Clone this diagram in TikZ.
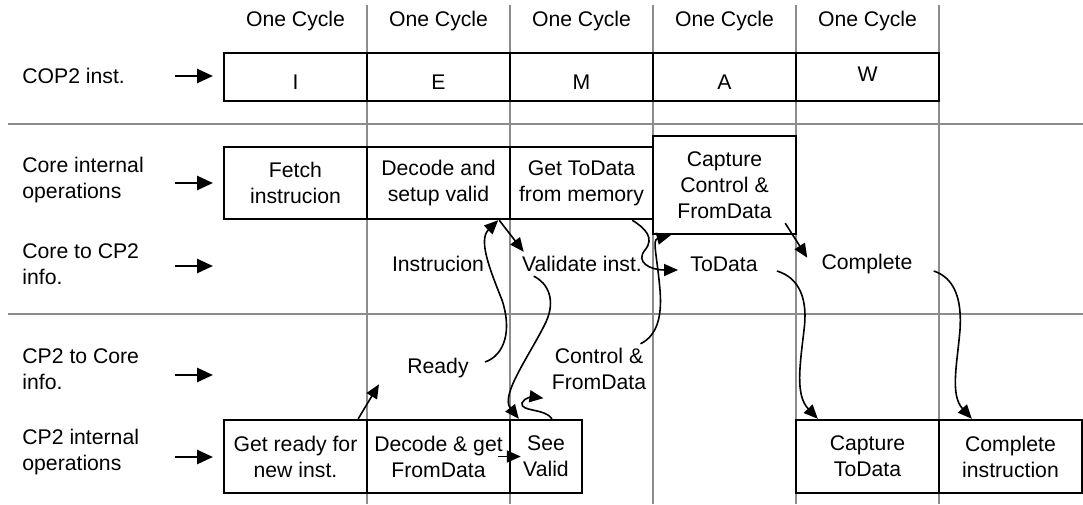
\documentclass[tikz,border=0pt]{standalone}
\usepackage{fontspec}
\setmainfont{Liberation Sans}
\usetikzlibrary{arrows.meta}

\tikzset{
  stage/.style={draw, line width=1.2pt, fill=white, minimum width=71.5pt,
    inner sep=0pt, align=center},
  lbl/.style={anchor=west, align=left, inner sep=0pt},
  sigtxt/.style={inner sep=2pt, align=center},
  feed/.style={-{Triangle[length=8pt,width=7pt]}, line width=1.3pt},
  sig/.style={-{Triangle[length=7pt,width=6pt]}, line width=0.8pt},
  cyclesep/.style={black!45, line width=1pt},
}

\begin{document}
\begin{tikzpicture}[x=0.5pt, y=-0.5pt, font=\fontsize{10.6}{13}\selectfont]
  \useasboundingbox (0,0) rectangle (1083,504);

  % cycle separators
  \foreach \c in {1,...,5}
    \draw[cyclesep] (224+143*\c,5) -- (224+143*\c,504);
  \draw[cyclesep] (8,124) -- (1083,124);
  \draw[cyclesep] (8,314) -- (1083,314);

  % cycle headers
  \foreach \c in {0,...,4}
    \node (cyc\c) at (295.5+143*\c,21) {One Cycle};

  % row labels
  \node[lbl] (lcop) at (22,76)  {COP2 inst.};
  \node[lbl] (lcio) at (22,180) {Core internal\\operations};
  \node[lbl] (lc2p) at (22,264) {Core to CP2\\info.};
  \node[lbl] (lp2c) at (22,369) {CP2 to Core\\info.};
  \node[lbl] (lpio) at (22,452) {CP2 internal\\operations};

  % row input arrows
  \foreach \r/\y in {cop/76,cio/183,c2p/266,p2c/375,pio/457}{
    \coordinate (\r-in) at (175,\y);
    \draw[feed] (\r-in) -- ++(38,0);
  }

  % COP2 pipeline stages
  \node[stage, minimum height=24pt, text height=12.5pt] (pI) at (295.5,77) {I};
  \node[stage, minimum height=24pt, text height=12.5pt] (pE) at (438.5,77) {E};
  \node[stage, minimum height=24pt, text height=12.5pt] (pM) at (581.5,77) {M};
  \node[stage, minimum height=24pt, text height=12.5pt] (pA) at (724.5,77) {A};
  \node[stage, minimum height=24pt, text height=12.5pt] (pW) at (867.5,77) {\raisebox{4pt}{W}};

  % core internal operations
  \node[stage, minimum height=36pt] (fetch) at (295.5,183) {Fetch\\instrucion};
  \node[stage, minimum height=36pt] (setup) at (438.5,183) {Decode and\\setup valid};
  \node[stage, minimum height=36pt] (gtd)   at (581.5,183) {Get ToData\\from memory};
  \node[stage, minimum height=49pt] (cap)   at (724.5,185) {Capture\\Control \&\\FromData};

  % core to CP2 info
  \node[sigtxt] (instr)  at (438,264) {Instrucion};
  \node[sigtxt] (valid)  at (582,264) {Validate inst.};
  \node[sigtxt] (todata) at (724,264) {ToData};
  \node[sigtxt] (compl)  at (867,264) {Complete};

  % CP2 to core info
  \node[sigtxt] (ready) at (438,368) {Ready};
  \node[sigtxt] (ctrl)  at (599,369) {Control \&\\FromData};

  % CP2 internal operations
  \node[stage, minimum height=36.5pt] (gr) at (295.5,456.5) {Get ready for\\new inst.};
  \node[stage, minimum height=36.5pt] (dg) at (438.5,456.5) {Decode \& get\\FromData};
  \node[stage, minimum height=36.5pt, minimum width=36pt] (sv) at (546,456.5) {See\\Valid};
  \node[stage, minimum height=36.5pt] (ct) at (867.5,456.5) {Capture\\ToData};
  \node[stage, minimum height=36.5pt] (ci) at (1010.5,456.5) {Complete\\instruction};

  % handshake arrows
  \draw[sig] ([xshift=-5pt]gr.north east) -- ([xshift=-12pt,yshift=-1pt]ready.south west);
  \draw[sig] ([xshift=6pt,yshift=3pt]ready.east) .. controls (505,355) and (512,330) .. (502,300)
    .. controls (490,270) and (478,240) .. ([xshift=-6.5pt]setup.south east);
  \draw[sig] ([xshift=-6pt]setup.south east) -- ([xshift=3pt]valid.north west);
  \draw[sig] ([xshift=8pt]valid.south west) .. controls (548,283) and (556,300) .. (546,322)
    .. controls (530,355) and (500,395) .. ([xshift=5pt]sv.north west);
  \draw[sig] ([xshift=3pt]sv.north) .. controls (545,408) and (520,412) .. (522,403)
    .. controls (524,397) and (535,397) .. ([xshift=-2pt,yshift=-2pt]ctrl.south west);
  \draw[sig] ([xshift=-5pt]ctrl.north east) .. controls (658,335) and (662,315) .. (660,290)
    .. controls (657,255) and (652,240) .. ([xshift=9.5pt]cap.south west);
  \draw[sig] ([xshift=-11pt]gtd.south east) .. controls (645,228) and (655,238) .. (645,250)
    .. controls (635,262) and (650,270) .. ([xshift=-4pt,yshift=-3pt]todata.west);
  \draw[sig] ([xshift=-6pt,yshift=6pt]cap.south east) -- ([xshift=-5pt,yshift=-4pt]compl.north west);
  \draw[sig] ([xshift=7.5pt,yshift=-3.5pt]todata.east) .. controls (800,278) and (808,300) .. (804,330)
    .. controls (800,365) and (795,395) .. ([xshift=11.5pt]ct.north west);
  \draw[sig] ([xshift=8.5pt,yshift=-3.5pt]compl.east) .. controls (955,278) and (962,300) .. (960,330)
    .. controls (957,365) and (950,395) .. ([xshift=17pt]ci.north west);
  \draw[sig] ([xshift=-6.5pt]dg.east) -- ([xshift=6pt]sv.west);

\end{tikzpicture}
\end{document}
